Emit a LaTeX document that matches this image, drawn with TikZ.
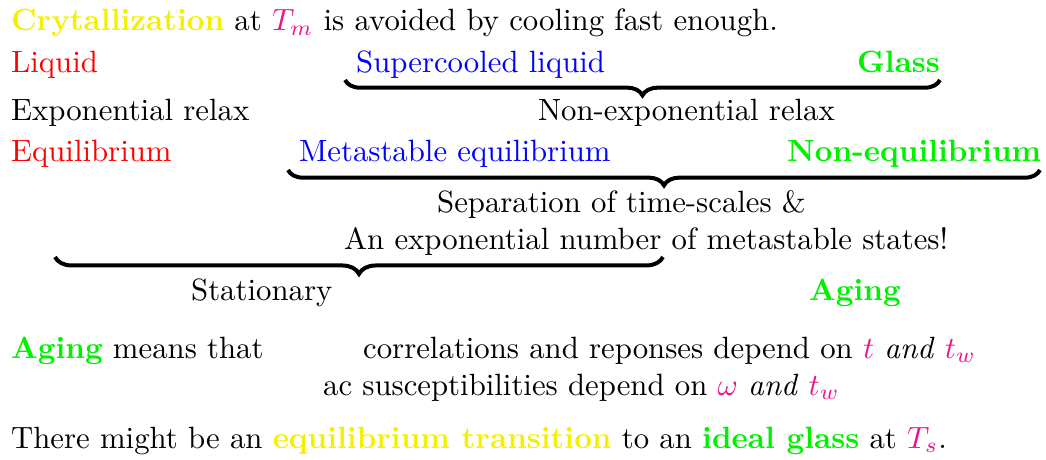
\documentclass[tikz,border=0pt]{standalone}
\usepackage{tikz}
\usetikzlibrary{decorations.pathreplacing,positioning,calc}
\definecolor{tpink}{RGB}{235,20,140}
\definecolor{tgreen}{RGB}{0,240,0}
\definecolor{tyellow}{RGB}{245,240,0}
\tikzset{every picture/.style={line width=0.75pt}}
\tikzset{
  txt/.style={anchor=base west,inner sep=0pt},
  brc/.style={decorate,decoration={brace,mirror,amplitude=#1},line width=1.3pt},
}

\begin{document}
\begin{tikzpicture}[x=0.325pt,y=-0.325pt]
    \useasboundingbox (0,0) rectangle (1046,460);
    % 第一行
    \node[txt] (cryst) at (10,31) {{\color{tyellow}\textbf{Crytallization}} at {\color{tpink}$T_m$} is avoided by cooling fast enough.};
    % 液体 / 过冷液体 / 玻璃
    \node[txt,red] (liq) at (10,72) {Liquid};
    \node[txt,blue] (scl) at (355,72) {Supercooled liquid};
    \node[txt,tgreen] (glass) at (856,72) {\textbf{Glass}};
    \coordinate (b1l) at (345,80);
    \coordinate (b1r) at (940,80);
    \draw[brc=5pt] (b1l) -- (b1r);
    \node[txt] (exprel) at (10,121) {Exponential relax};
    \node[txt] (nexprel) at (537,121) {Non-exponential relax};
    % 平衡
    \node[txt,red] (eq) at (10,161) {Equilibrium};
    \node[txt,blue] (meq) at (298,161) {Metastable equilibrium};
    \node[txt,tgreen] (neq) at (786,161) {\textbf{Non-equilibrium}};
    \coordinate (b2l) at (288,170);
    \coordinate (b2r) at (1040,170);
    \draw[brc=5pt] (b2l) -- (b2r);
    \node[txt] (sep) at (436,212) {Separation of time-scales \&};
    \node[txt] (expn) at (343,249) {An exponential number of metastable states!};
    % 稳态 / 老化
    \coordinate (b3l) at (55,257);
    \coordinate (b3r) at (663,257);
    \draw[brc=5.5pt] (b3l) -- (b3r);
    \node[txt] (stat) at (190,300) {Stationary};
    \node[txt,tgreen] (aging) at (808,300) {\textbf{Aging}};
    % 老化的含义
    \node[txt] (agm) at (10,358) {{\color{tgreen}\textbf{Aging}} means that};
    \node[txt] (corr) at (362,358) {correlations and reponses depend on {\color{tpink}$t$} \emph{and} {\color{tpink}$t_w$}};
    \node[txt] (ac) at (322,395) {ac susceptibilities depend on {\color{tpink}$\omega$} \emph{and} {\color{tpink}$t_w$}};
    % 理想玻璃
    \node[txt] (ideal) at (10,448) {There might be an {\color{tyellow}\textbf{equilibrium transition}} to an {\color{tgreen}\textbf{ideal glass}} at {\color{tpink}$T_s$}.};
\end{tikzpicture}
\end{document}
